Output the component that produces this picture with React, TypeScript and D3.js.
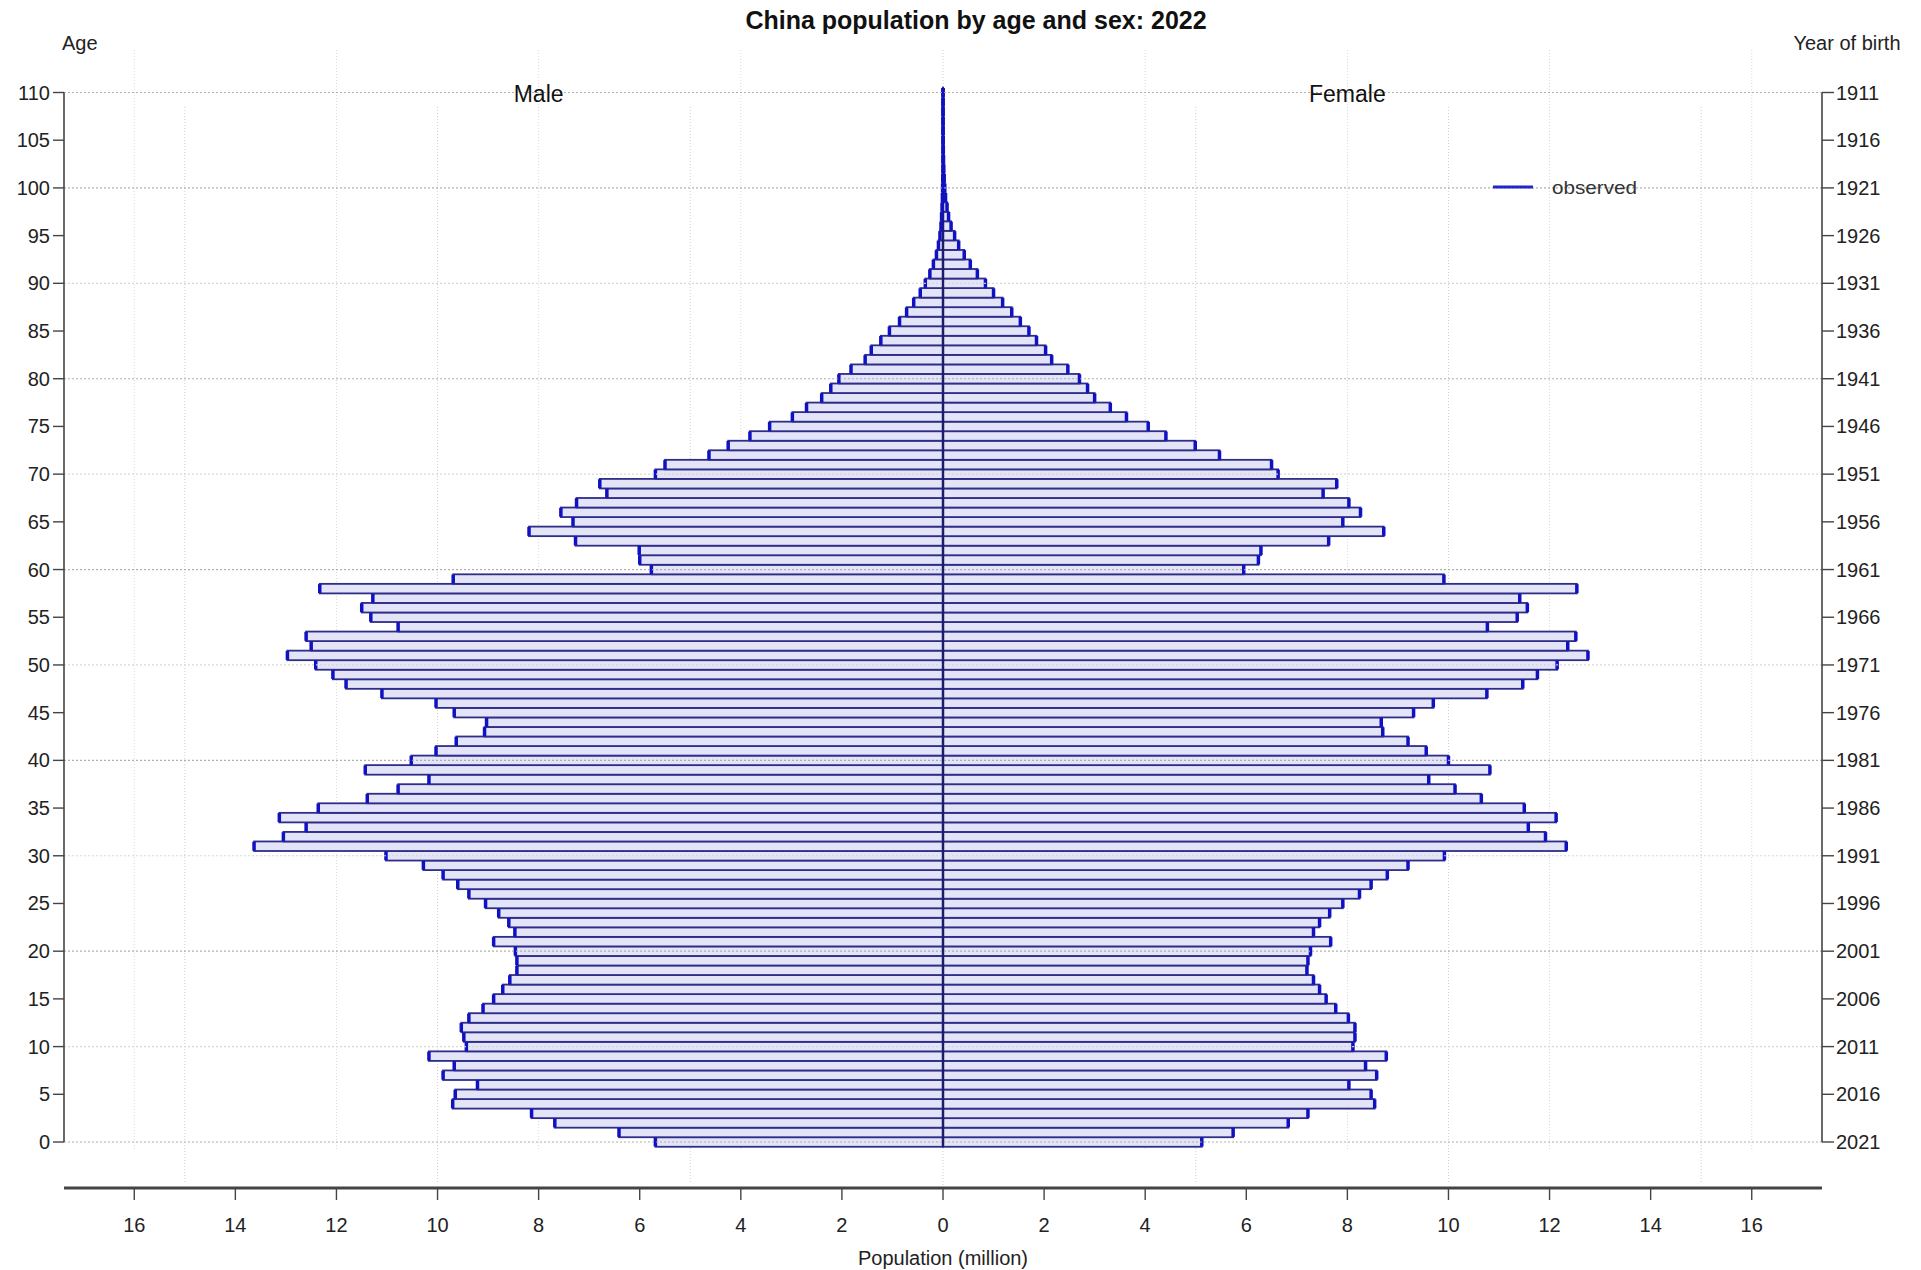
import React from 'react';
import * as d3 from 'd3';

// Age categories 0..110
const ages: number[] = d3.range(0, 111);

// Male population (million) by single year of age 0..110
const male: number[] = [
  5.69, 6.41, 7.68, 8.14, 9.70, 9.65, 9.21, 9.89, 9.67, 10.17,
  9.43, 9.48, 9.53, 9.38, 9.10, 8.89, 8.71, 8.57, 8.43, 8.43,
  8.46, 8.89, 8.47, 8.59, 8.79, 9.05, 9.38, 9.60, 9.89, 10.28,
  11.02, 13.63, 13.05, 12.60, 13.13, 12.36, 11.39, 10.78, 10.17, 11.43,
  10.52, 10.03, 9.63, 9.07, 9.03, 9.67, 10.03, 11.10, 11.81, 12.07,
  12.41, 12.97, 12.50, 12.60, 10.78, 11.32, 11.50, 11.28, 12.33, 9.69,
  5.77, 6.00, 6.01, 7.27, 8.19, 7.32, 7.56, 7.25, 6.65, 6.79,
  5.69, 5.50, 4.63, 4.25, 3.82, 3.43, 2.98, 2.70, 2.40, 2.22,
  2.06, 1.82, 1.54, 1.42, 1.23, 1.06, 0.86, 0.72, 0.58, 0.45,
  0.35, 0.26, 0.19, 0.13, 0.09, 0.06, 0.04, 0.028, 0.019, 0.012,
  0.008, 0.005, 0.003, 0.002, 0.001, 0.001, 0.0005, 0.0003, 0.0002, 0.0001,
  0.0001,
];

// Female population (million) by single year of age 0..110
const female: number[] = [
  5.12, 5.74, 6.83, 7.22, 8.54, 8.47, 8.03, 8.58, 8.36, 8.77,
  8.11, 8.15, 8.15, 8.02, 7.77, 7.58, 7.45, 7.33, 7.20, 7.22,
  7.27, 7.67, 7.33, 7.45, 7.65, 7.91, 8.24, 8.47, 8.79, 9.20,
  9.92, 12.33, 11.92, 11.58, 12.13, 11.50, 10.65, 10.13, 9.61, 10.82,
  10.00, 9.56, 9.20, 8.70, 8.67, 9.31, 9.70, 10.76, 11.47, 11.76,
  12.15, 12.76, 12.36, 12.52, 10.77, 11.36, 11.56, 11.41, 12.54, 9.91,
  5.95, 6.24, 6.29, 7.63, 8.72, 7.91, 8.26, 8.03, 7.52, 7.79,
  6.63, 6.50, 5.47, 4.99, 4.41, 4.06, 3.63, 3.31, 3.00, 2.86,
  2.70, 2.47, 2.15, 2.03, 1.85, 1.70, 1.53, 1.36, 1.18, 1.00,
  0.84, 0.68, 0.54, 0.42, 0.31, 0.23, 0.16, 0.11, 0.08, 0.05,
  0.035, 0.024, 0.016, 0.010, 0.006, 0.004, 0.002, 0.0015, 0.001, 0.0005,
  0.0003,
];

const xTickValues: number[] = [-16, -14, -12, -10, -8, -6, -4, -2, 0, 2, 4, 6, 8, 10, 12, 14, 16];
const gridFour: number[] = [-16, -12, -8, -4, 4, 8, 12, 16];
const gridFive: number[] = [-15, -10, -5, 5, 10, 15];
const ageTicks: number[] = [0, 5, 10, 15, 20, 25, 30, 35, 40, 45, 50, 55, 60, 65, 70, 75, 80, 85, 90, 95, 100, 105, 110];
const birthYearTicks: number[] = [2021, 2016, 2011, 2006, 2001, 1996, 1991, 1986, 1981, 1976, 1971, 1966, 1961, 1956, 1951, 1946, 1941, 1936, 1931, 1926, 1921, 1916, 1911];
const ageGrid: number[] = [0, 10, 20, 30, 40, 50, 60, 70, 80, 90, 100, 110];

const FONT = "'Liberation Sans', Arial, Helvetica, sans-serif";

export default function App() {
  const W = 1921;
  const H = 1270;
  const x = d3.scaleLinear().domain([-17.39, 17.39]).range([64, 1822]);
  const y = d3.scaleLinear().domain([0, 110]).range([1142, 92.5]);
  const x0 = x(0);
  const axisY = 1188;
  const leftX = x(-17.39);
  const rightX = x(17.39);

  const barColorFill = '#e4e4f9';
  const barStroke = '#2e2e88';
  const capColor = '#1010c4';

  const bars = (vals: number[], sign: number, key: string) =>
    ages.map((a, i) => {
      const v = vals[i];
      const xe = x(sign * v);
      const yt = y(a + 0.5);
      const yb = y(a - 0.5);
      return (
        <rect
          key={key + a}
          x={Math.min(x0, xe)}
          y={yt}
          width={Math.abs(xe - x0)}
          height={yb - yt}
          fill={barColorFill}
          stroke={barStroke}
          strokeWidth={1.8}
        />
      );
    });

  const caps = (vals: number[], sign: number, key: string) =>
    ages.map((a, i) => {
      const xe = x(sign * vals[i]);
      return (
        <line
          key={key + a}
          x1={xe}
          x2={xe}
          y1={y(a + 0.5) + 0.3}
          y2={y(a - 0.5) - 0.3}
          stroke={capColor}
          strokeWidth={3.5}
        />
      );
    });

  return (
    <svg
      width={W}
      height={H}
      style={{ position: 'absolute', left: 0, top: 0, background: '#fff' }}
      fontFamily={FONT}
    >
      <rect x={0} y={0} width={W} height={H} fill="#ffffff" />

      {/* vertical grid lines (multiples of 4) */}
      {gridFour.map((v) => (
        <line key={'g4' + v} x1={x(v)} x2={x(v)} y1={50} y2={1150} stroke="#d8d8d8" strokeWidth={1} strokeDasharray="1,2" />
      ))}
      {/* vertical grid lines (multiples of 5) */}
      {gridFive.map((v) => (
        <line key={'g5' + v} x1={x(v)} x2={x(v)} y1={107} y2={1183} stroke="#d0d0d0" strokeWidth={1} strokeDasharray="1,2" />
      ))}
      <line x1={x0} x2={x0} y1={50} y2={1185} stroke="#cfcfcf" strokeWidth={1} strokeDasharray="1,2" />

      {/* bars */}
      {bars(male, -1, 'mb')}
      {bars(female, 1, 'fb')}

      {/* center line */}
      <line x1={x0} x2={x0} y1={y(110.5)} y2={y(-0.5)} stroke="#1c1c6a" strokeWidth={2.5} />

      {/* caps */}
      {caps(male, -1, 'mc')}
      {caps(female, 1, 'fc')}

      {/* horizontal grid lines drawn over bars */}
      {ageGrid.map((a) => (
        <line
          key={'hg' + a}
          x1={leftX}
          x2={rightX}
          y1={y(a)}
          y2={y(a)}
          stroke={a % 20 === 0 || a === 110 ? '#a8a8a8' : '#d4d4d4'}
          strokeWidth={1.2}
          strokeDasharray="2,2"
          opacity={0.9}
        />
      ))}

      {/* left axis */}
      <line x1={leftX} x2={leftX} y1={y(0)} y2={y(110)} stroke="#444" strokeWidth={1.6} />
      {ageTicks.map((a) => (
        <g key={'lt' + a}>
          <line x1={leftX - 11} x2={leftX} y1={y(a)} y2={y(a)} stroke="#444" strokeWidth={1.4} />
          <text x={leftX - 14} y={y(a) + 7} textAnchor="end" fontSize={20} fill="#222">{a}</text>
        </g>
      ))}
      <text x={62} y={50} fontSize={20} fill="#222">Age</text>

      {/* right axis */}
      <line x1={rightX} x2={rightX} y1={y(0)} y2={y(110)} stroke="#444" strokeWidth={1.6} />
      {ageTicks.map((a, i) => (
        <g key={'rt' + a}>
          <line x1={rightX} x2={rightX + 12} y1={y(a)} y2={y(a)} stroke="#444" strokeWidth={1.4} />
          <text x={rightX + 14} y={y(a) + 7} textAnchor="start" fontSize={20} fill="#222">{birthYearTicks[i]}</text>
        </g>
      ))}
      <text x={1847} y={50} textAnchor="middle" fontSize={20} fill="#222">Year of birth</text>

      {/* bottom axis */}
      <line x1={leftX} x2={rightX} y1={axisY} y2={axisY} stroke="#444" strokeWidth={3} />
      {xTickValues.map((v) => (
        <g key={'xt' + v}>
          <line x1={x(v)} x2={x(v)} y1={axisY} y2={axisY + 12} stroke="#444" strokeWidth={1.4} />
          <text x={x(v)} y={1232} textAnchor="middle" fontSize={20} fill="#222">{Math.abs(v)}</text>
        </g>
      ))}
      <text x={x0} y={1265} textAnchor="middle" fontSize={20} fill="#222">Population (million)</text>

      {/* panel labels */}
      <text x={x(-8)} y={102} textAnchor="middle" fontSize={23} fill="#111">Male</text>
      <text x={x(8)} y={102} textAnchor="middle" fontSize={23} fill="#111">Female</text>

      {/* title */}
      <text x={976} y={29} textAnchor="middle" fontSize={25} fontWeight="bold" fill="#111">China population by age and sex: 2022</text>

      {/* legend */}
      <line x1={1493} x2={1533} y1={187} y2={187} stroke="#2424cc" strokeWidth={3} />
      <text transform="translate(1552,194) scale(1.15,1)" fontSize={18} fill="#333">observed</text>
    </svg>
  );
}
